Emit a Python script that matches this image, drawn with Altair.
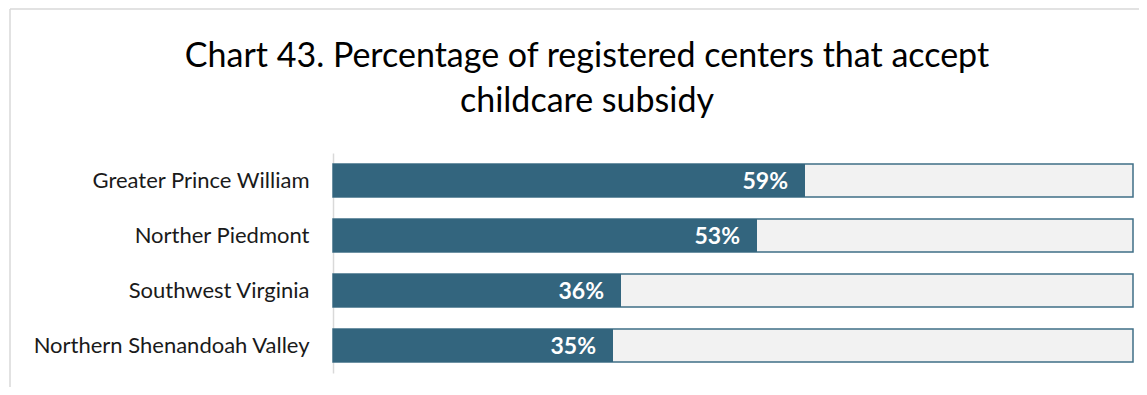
import altair as alt
import pandas as pd

regions = ["Greater Prince William", "Norther Piedmont", "Southwest Virginia", "Northern Shenandoah Valley"]
values = [59, 53, 36, 35]
labels = ["59%", "53%", "36%", "35%"]
full = [100, 100, 100, 100]

df = pd.DataFrame({"region": regions, "value": values, "label": labels, "full": full})

FONT = "Lato"
TEAL = "#33657e"

y_enc = alt.Y("region:N", sort=regions, title=None,
              scale=alt.Scale(paddingInner=0.4, paddingOuter=0.2),
              axis=alt.Axis(domainColor="#d9d9d9", domainWidth=1.5, ticks=False,
                            labelFont=FONT, labelFontSize=22, labelColor="#1a1a1a",
                            labelPadding=24, labelLimit=400))

x_scale = alt.Scale(domain=[0, 100], nice=False, zero=True)

base = alt.Chart(df)

bg = base.mark_bar(color="#f2f2f2", stroke="#3f6f87", strokeWidth=1.5, cornerRadius=0).encode(
    x=alt.X("full:Q", scale=x_scale, axis=None), y=y_enc)

fg = base.mark_bar(color=TEAL).encode(
    x=alt.X("value:Q", scale=x_scale, axis=None), y=y_enc)

txt = base.mark_text(align="right", baseline="middle", dx=-17, dy=1, color="white",
                     font=FONT, fontSize=23, fontWeight="bold").encode(
    x=alt.X("value:Q", scale=x_scale, axis=None), y=y_enc, text="label:N")

frame_top = alt.Chart(pd.DataFrame({"a": [0]})).mark_rule(color="#d9d9d9", strokeWidth=1.5, clip=False).encode(
    x=alt.value(-323), x2=alt.value(830), y=alt.value(-144))
frame_left = alt.Chart(pd.DataFrame({"a": [0]})).mark_rule(color="#d9d9d9", strokeWidth=1.5, clip=False).encode(
    x=alt.value(-323), y=alt.value(-144), y2=alt.value(260))

chart = alt.layer(frame_top, frame_left, bg, fg, txt).properties(
    width=800, height=220,
    background="white",
    autosize=alt.AutoSizeParams(type="none"),
    padding={"left": 325, "top": 145, "right": 6, "bottom": 14},
    title=alt.TitleParams(
        text=["Chart 43. Percentage of registered centers that accept", "childcare subsidy"],
        font=FONT, fontSize=34, fontWeight="normal", color="#000000",
        lineHeight=45, anchor="middle", frame="group", dx=-146, offset=-111),
).configure_view(strokeWidth=0, stroke="transparent")

chart.save("out.html", embed_options={"renderer": "svg", "actions": False})
